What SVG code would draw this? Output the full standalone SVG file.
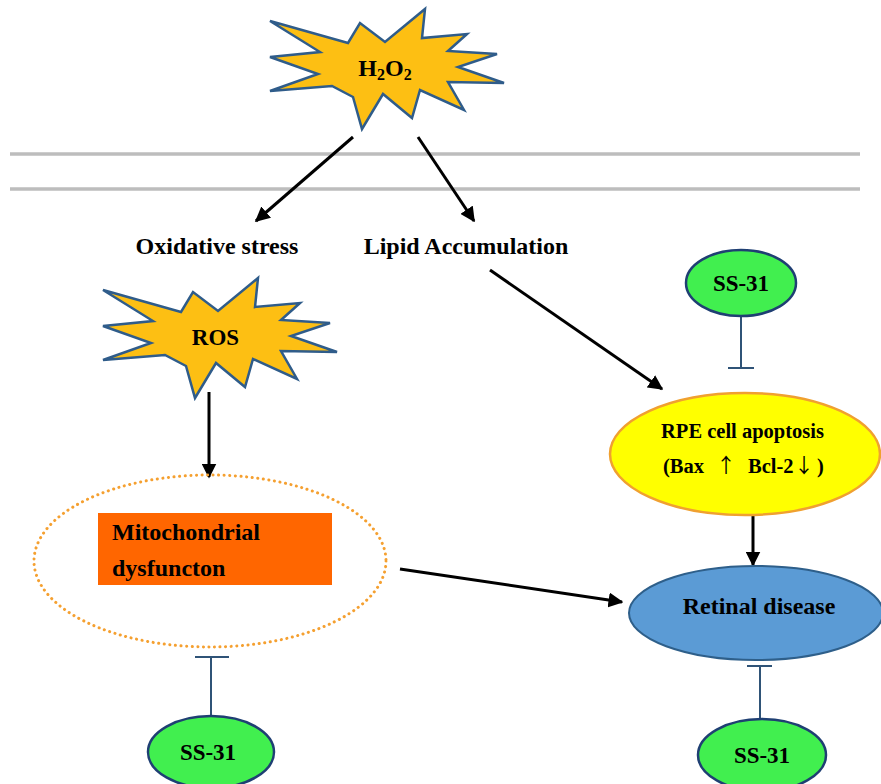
<svg xmlns="http://www.w3.org/2000/svg" width="881" height="784" viewBox="0 0 881 784">
<style>
text{font-family:"Liberation Serif","Times New Roman",serif;font-weight:bold;fill:#000;text-anchor:middle}
.arr{stroke:#000;stroke-width:3;fill:none;marker-end:url(#ah)}
.inh{stroke:#2f5377;stroke-width:2;fill:none}
.star{fill:#fdbf13;stroke:#2f5c8a;stroke-width:2.5;stroke-linejoin:miter}
.ss{fill:#41ef4f;stroke:#1f3f73;stroke-width:2.5}
.mem{stroke:#bdbdbd;stroke-width:3.5}
.ar{font-family:"Noto Sans CJK SC","DejaVu Sans",sans-serif;font-weight:normal}
</style>
<defs>
<marker id="ah" viewBox="0 0 10 10" refX="9" refY="5" markerWidth="5" markerHeight="5" orient="auto" markerUnits="strokeWidth">
<path d="M0,0 L10,5 L0,10 z" fill="#000"/>
</marker>
<polygon id="starshape" points="270,21 348,43 360,23 385,42 425,9 422,38 467,34 448,51 497,54 458,67 504,83 448,82 464,110 420,90 412,118 383,94 362,129 353,97 332,86 270,91 318,74 270,57 320,52"/>
</defs>
<rect width="881" height="784" fill="#fff"/>
<g id="membrane">
<line class="mem" x1="10" y1="154" x2="860" y2="154"/>
<line class="mem" x1="10" y1="189" x2="860" y2="189"/>
</g>
<g id="connectors">
<line class="arr" x1="353" y1="137" x2="256" y2="221"/>
<line class="arr" x1="418" y1="137" x2="474" y2="221"/>
<line class="arr" x1="490" y1="270" x2="662" y2="389"/>
<line class="arr" x1="209" y1="392" x2="209" y2="477"/>
<line class="arr" x1="400" y1="569" x2="622" y2="602"/>
<line class="arr" x1="753" y1="515" x2="753" y2="565"/>
<line class="inh" x1="741" y1="317" x2="741" y2="368"/>
<line class="inh" x1="728" y1="368" x2="754" y2="368"/>
<line class="inh" x1="211" y1="657" x2="211" y2="716"/>
<line class="inh" x1="195" y1="657" x2="229" y2="657"/>
<line class="inh" x1="760" y1="666" x2="760" y2="720"/>
<line class="inh" x1="747" y1="666" x2="772" y2="666"/>
</g>
<g id="h2o2">
<use href="#starshape" class="star"/>
<text x="385" y="76" font-size="24">H<tspan font-size="16" dy="4">2</tspan><tspan dy="-4">O</tspan><tspan font-size="16" dy="4">2</tspan></text>
</g>
<g id="oxidative">
<text x="217" y="254" font-size="24">Oxidative stress</text>
</g>
<g id="lipid">
<text x="466" y="254" font-size="24">Lipid Accumulation</text>
</g>
<g id="ros">
<use href="#starshape" class="star" transform="translate(-167,269)"/>
<text x="215.5" y="345" font-size="23">ROS</text>
</g>
<g id="mito">
<ellipse cx="210" cy="561" rx="176" ry="86" fill="none" stroke="#f5a030" stroke-width="3" stroke-dasharray="0.1 5.5" stroke-linecap="round"/>
<rect x="98" y="513" width="234" height="72" fill="#ff6600"/>
<text x="112" y="540" font-size="24" style="text-anchor:start">Mitochondrial</text>
<text x="112" y="576" font-size="24" style="text-anchor:start">dysfuncton</text>
</g>
<g id="ss31-top">
<ellipse class="ss" cx="741" cy="283" rx="55" ry="33"/>
<text x="741" y="291" font-size="23">SS-31</text>
</g>
<g id="rpe">
<ellipse cx="745" cy="454" rx="135" ry="61" fill="#ffff00" stroke="#f0a030" stroke-width="2.5"/>
<text x="742.5" y="438" font-size="20.5">RPE cell apoptosis</text>
<text y="473" font-size="20.5" style="text-anchor:start"><tspan x="663">(Bax</tspan><tspan x="716" class="ar" font-size="20">↑</tspan><tspan x="748">Bcl-2</tspan><tspan x="794" class="ar" font-size="20">↓</tspan><tspan x="817">)</tspan></text>
</g>
<g id="retinal">
<ellipse cx="756" cy="613" rx="127" ry="47" fill="#5b9bd5" stroke="#2e5f8a" stroke-width="2"/>
<text x="759" y="614" font-size="24">Retinal disease</text>
</g>
<g id="ss31-left">
<ellipse class="ss" cx="211" cy="752" rx="63" ry="36"/>
<text x="208" y="760" font-size="23">SS-31</text>
</g>
<g id="ss31-right">
<ellipse class="ss" cx="762" cy="755" rx="64" ry="36"/>
<text x="762" y="763" font-size="23">SS-31</text>
</g>
</svg>
